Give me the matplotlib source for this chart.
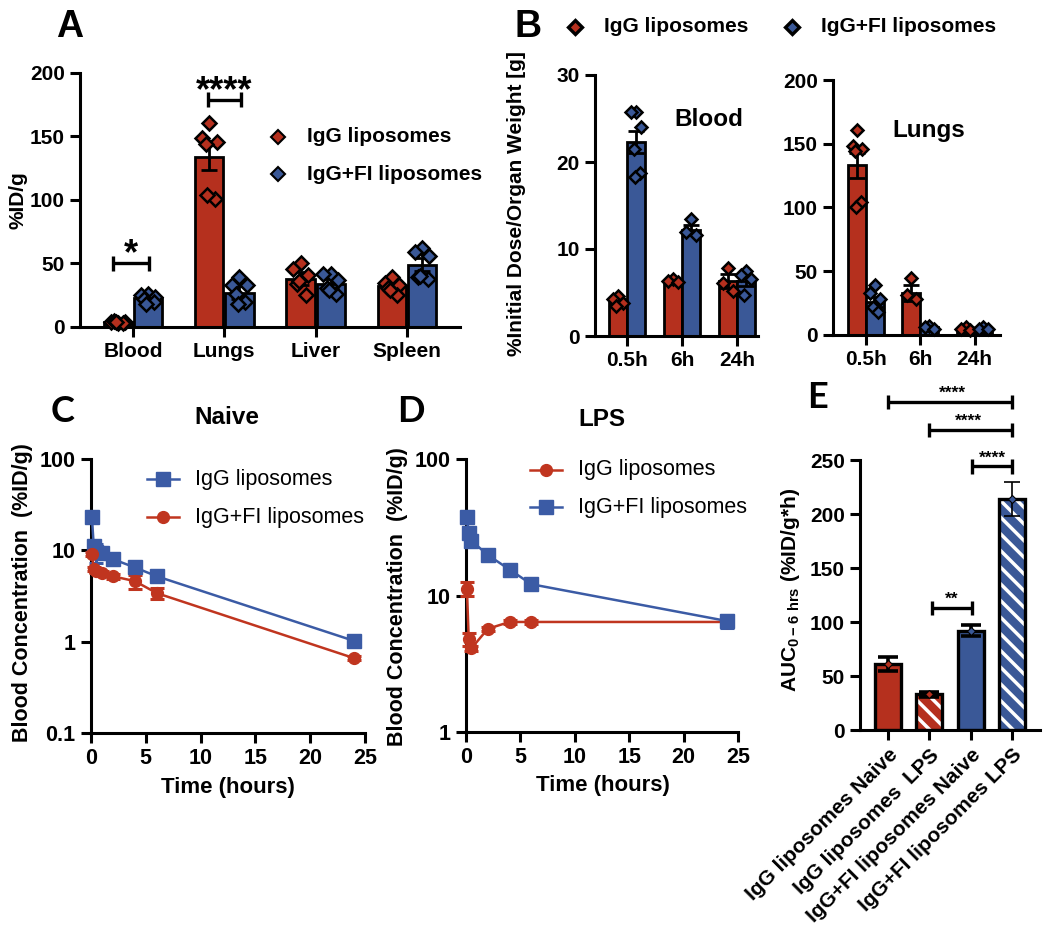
import numpy as np
import matplotlib
matplotlib.use('Agg')
from matplotlib import pyplot as plt

plt.rcParams['font.family'] = ['Liberation Sans', 'DejaVu Sans']
plt.rcParams['font.weight'] = 'bold'
plt.rcParams['mathtext.default'] = 'regular'
plt.rcParams['hatch.linewidth'] = 2.5

RED = '#b5301e'
BLUE = '#3a5897'
LRED = '#c0351f'
LBLUE = '#3b5ba5'

# ---- A: biodistribution, %ID/g
organs = ['Blood', 'Lungs', 'Liver', 'Spleen']
a_igg = [4, 134, 38, 32]
a_igg_sem = [0.4, 10, 5, 3]
a_fi = [23, 27, 34, 49]
a_fi_sem = [1.5, 5, 4, 5]
a_igg_pts = [[3.5, 4.2, 3.8, 4.5, 3.3, 4.0],
             [161, 149, 146, 144, 101, 104],
             [50, 46, 41, 34, 25, 36],
             [39, 35, 33, 31, 25, 29]]
a_fi_pts = [[26, 25, 24, 22, 20, 18],
            [39, 33, 33, 26, 20, 18],
            [42, 42, 37, 31, 26, 29],
            [62, 59, 56, 39, 38, 40]]

# ---- B: time course in blood and lungs
times = ['0.5h', '6h', '24h']
bl_igg = [4.0, 6.3, 6.3]
bl_igg_sem = [0.3, 0.1, 0.8]
bl_fi = [22.3, 12.2, 6.3]
bl_fi_sem = [1.3, 0.6, 0.6]
bl_igg_pts = [[4.6, 4.2, 3.8, 3.5], [6.5, 6.3, 6.2], [7.8, 6.1, 5.2]]
bl_fi_pts = [[25.8, 25.8, 24.0, 21.5, 18.7, 18.3], [13.4, 12.0, 11.6], [7.5, 7.0, 6.5, 4.7]]
lu_igg = [133, 33, 5]
lu_igg_sem = [10, 6, 1]
lu_fi = [26, 6, 5]
lu_fi_sem = [4, 1, 0.5]
lu_igg_pts = [[161, 148, 146, 144, 104, 100], [45, 31, 28], [6, 5, 4]]
lu_fi_pts = [[39, 33, 28, 22, 18], [7, 6, 5], [6, 5, 5]]

# ---- C: naive blood PK
t_naive = [0.083, 0.25, 0.5, 1, 2, 4, 6, 24]
naive_igg = [23, 11.2, 9.5, 9.3, 8.0, 6.5, 5.2, 1.02]
naive_igg_err = [1.0, 1.2, 2.3, 0.5, 0.4, 0.4, 0.3, 0.05]
naive_fi = [9.2, 6.2, 6.0, 5.6, 5.2, 4.6, 3.4, 0.66]
naive_fi_err = [0.5, 0.3, 0.3, 0.3, 0.3, 0.8, 0.45, 0.03]

# ---- D: LPS blood PK
t_lps = [0.083, 0.25, 0.5, 2, 4, 6, 24]
lps_igg = [11.2, 4.8, 4.1, 5.7, 6.4, 6.4, 6.4]
lps_igg_err = [1.3, 0.5, 0.2, 0.2, 0.2, 0.2, 0.3]
lps_fi = [37.8, 28.5, 25.2, 19.8, 15.5, 12.1, 6.5]
lps_fi_err = [1.5, 1.0, 1.0, 0.5, 0.5, 0.5, 0.7]

# ---- E: AUC 0-6 h
groups = ['IgG liposomes Naive', 'IgG liposomes  LPS',
          'IgG+FI liposomes Naive', 'IgG+FI liposomes LPS']
auc = [61, 33, 92, 214]
auc_err = [6.5, 2.5, 5, 16]

W, H = 1050, 939
fig = plt.figure(figsize=(W / 100, H / 100), dpi=100)


def px_axes(l, t, r, b):
    return fig.add_axes([l / W, 1 - b / H, (r - l) / W, (b - t) / H])


def prism(ax, size=14.5):
    for s in ['top', 'right']:
        ax.spines[s].set_visible(False)
    for s in ['left', 'bottom']:
        ax.spines[s].set_linewidth(2.2)
    ax.tick_params(width=2.2, length=7, labelsize=size, pad=4)
    for lab in ax.get_xticklabels() + ax.get_yticklabels():
        lab.set_fontweight('bold')


def bracket(ax, x0, x1, y, h, lw=2.4):
    kw = dict(color='k', lw=lw, clip_on=False, solid_capstyle='butt')
    ax.plot([x0, x1], [y, y], **kw)
    ax.plot([x0, x0], [y - h, y + h], **kw)
    ax.plot([x1, x1], [y - h, y + h], **kw)


JIT = np.array([0.0, -0.08, 0.08, -0.04, 0.06, -0.02])


def grouped(ax, means_a, sems_a, pts_a, means_b, sems_b, pts_b, off, w, ms):
    x = np.arange(len(means_a))
    ax.bar(x - off, means_a, w, color=RED, edgecolor='k', lw=2.0, zorder=2)
    ax.bar(x + off, means_b, w, color=BLUE, edgecolor='k', lw=2.0, zorder=2)
    ax.errorbar(x - off, means_a, yerr=sems_a, fmt='none', ecolor='k',
                elinewidth=2.0, capsize=6, capthick=2.0, zorder=3)
    ax.errorbar(x + off, means_b, yerr=sems_b, fmt='none', ecolor='k',
                elinewidth=2.0, capsize=6, capthick=2.0, zorder=3)
    for i in range(len(means_a)):
        pa = pts_a[i]
        pb = pts_b[i]
        ax.plot(i - off + JIT[:len(pa)] * w / 0.31, pa, 'D', ms=ms, mfc=RED,
                mec='k', mew=1.8, zorder=4, clip_on=False)
        ax.plot(i + off + JIT[:len(pb)] * w / 0.31, pb, 'D', ms=ms, mfc=BLUE,
                mec='k', mew=1.8, zorder=4, clip_on=False)


# ================= A
axA = px_axes(80, 73, 460, 327)
grouped(axA, a_igg, a_igg_sem, a_igg_pts, a_fi, a_fi_sem, a_fi_pts, 0.165, 0.31, 6.8)
axA.set_xlim(-0.58, 3.58)
axA.set_ylim(0, 200)
axA.set_yticks([0, 50, 100, 150, 200])
axA.set_xticks(range(4))
axA.set_xticklabels(organs)
prism(axA, 15)
bracket(axA, -0.22, 0.18, 50, 6)
axA.text(-0.02, 57, '*', ha='center', va='center', fontsize=26, fontweight='bold')
bracket(axA, 0.82, 1.18, 179, 6)
axA.text(1.0, 185, '****', ha='center', va='center', fontsize=26, fontweight='bold')

# ================= B
axB1 = px_axes(595, 75, 758, 336)
grouped(axB1, bl_igg, bl_igg_sem, bl_igg_pts, bl_fi, bl_fi_sem, bl_fi_pts, 0.165, 0.33, 6)
axB1.set_xlim(-0.58, 2.38)
axB1.set_ylim(0, 30)
axB1.set_yticks([0, 10, 20, 30])
axB1.set_xticks(range(3))
axB1.set_xticklabels(times)
prism(axB1, 15)

axB2 = px_axes(833, 80, 1000, 335)
grouped(axB2, lu_igg, lu_igg_sem, lu_igg_pts, lu_fi, lu_fi_sem, lu_fi_pts, 0.165, 0.33, 6)
axB2.set_xlim(-0.61, 2.47)
axB2.set_ylim(0, 200)
axB2.set_yticks([0, 50, 100, 150, 200])
axB2.set_xticks(range(3))
axB2.set_xticklabels(times)
prism(axB2, 15)


# ================= C / D
def pk(ax, t, y, e, color, marker, ms):
    ax.errorbar(t, y, yerr=e, color=color, marker=marker, ms=ms, lw=1.8,
                elinewidth=2.2, capsize=5, capthick=2.2, clip_on=False, zorder=3)


axC = px_axes(91, 459, 365, 733)
axC.set_yscale('log')
pk(axC, t_naive, naive_igg, naive_igg_err, LBLUE, 's', 9.5)
pk(axC, t_naive, naive_fi, naive_fi_err, LRED, 'o', 8.5)
axC.set_ylim(0.1, 100)
axC.set_xlim(0, 25)
axC.set_yticks([0.1, 1, 10, 100])
axC.set_yticklabels(['0.1', '1', '10', '100'])
axC.yaxis.set_minor_locator(matplotlib.ticker.NullLocator())
axC.set_xticks([0, 5, 10, 15, 20, 25])
prism(axC, 15.5)

axD = px_axes(466, 459, 738, 732)
axD.set_yscale('log')
pk(axD, t_lps, lps_igg, lps_igg_err, LRED, 'o', 8.5)
pk(axD, t_lps, lps_fi, lps_fi_err, LBLUE, 's', 9.5)
axD.set_ylim(1, 100)
axD.set_xlim(0, 25)
axD.set_yticks([1, 10, 100])
axD.set_yticklabels(['1', '10', '100'])
axD.yaxis.set_minor_locator(matplotlib.ticker.NullLocator())
axD.set_xticks([0, 5, 10, 15, 20, 25])
prism(axD, 15.5)

# ================= E
axE = px_axes(860, 460, 1040, 730)
xe = np.arange(4)
fills = [RED, RED, BLUE, BLUE]
hatches = ['', '\\\\', '', '\\\\']
axE.bar(xe, auc, 0.63, color=fills, edgecolor='white', lw=0, hatch=hatches, zorder=2)
axE.bar(xe, auc, 0.63, fill=False, edgecolor='k', lw=2.4, zorder=3)
axE.errorbar(xe[:3], auc[:3], yerr=auc_err[:3], fmt='none', ecolor='k',
             elinewidth=2.6, capsize=7, capthick=2.6, zorder=4)
axE.errorbar(xe[3:], auc[3:], yerr=auc_err[3:], fmt='none', ecolor='k',
             elinewidth=1.2, capsize=6, capthick=1.2, zorder=4)
for i in range(4):
    axE.plot(xe[i], auc[i], 'D', ms=4, mfc=fills[i], mec='k', mew=0.8, zorder=5)
axE.set_xlim(-0.68, 3.68)
axE.set_ylim(0, 250)
axE.set_yticks([0, 50, 100, 150, 200, 250])
axE.set_xticks(xe)
axE.set_xticklabels(groups, rotation=45, ha='right', rotation_mode='anchor')
prism(axE, 15)
for x0, x1, yb in [(0, 3, 304), (1, 3, 278), (2.03, 3, 244), (1.07, 2.03, 113)]:
    bracket(axE, x0, x1, yb, 6.5)
for xs, ys, s in [(1.55, 304, '****'), (1.94, 278, '****'), (2.52, 244, '****'), (1.55, 113, '**')]:
    axE.text(xs, ys + 1, s, ha='center', va='bottom', fontsize=12.5, clip_on=False)

# ================= labels, legends and panel letters on top
overlay = fig.add_axes([0, 0, 1, 1])
overlay.set_zorder(10)
overlay.set_xlim(0, W)
overlay.set_ylim(H, 0)
overlay.axis('off')

overlay.text(18, 200, '%ID/g', rotation=90, ha='center', va='center', fontsize=15)
overlay.text(70, 27, 'A', ha='center', va='center', fontsize=27)
for yy, c, lab in [(137, RED, 'IgG liposomes'), (174, BLUE, 'IgG+FI liposomes')]:
    overlay.plot(278, yy, 'D', ms=7.5, mfc=c, mec='k', mew=1.5)
    overlay.text(307, yy, lab, va='center', fontsize=15)

overlay.text(709, 120, 'Blood', ha='center', va='center', fontsize=17.5)
overlay.text(929, 131, 'Lungs', ha='center', va='center', fontsize=17.5)
overlay.text(517, 204, '%Initial Dose/Organ Weight [g]', rotation=90,
             ha='center', va='center', fontsize=15)
overlay.text(528, 27, 'B', ha='center', va='center', fontsize=27)
for xx, c, lab in [(575, RED, 'IgG liposomes'), (792, BLUE, 'IgG+FI liposomes')]:
    overlay.plot(xx, 27, 'D', ms=7.5, mfc=c, mec='k', mew=2.4)
    overlay.text(xx + 29, 27, lab, va='center', fontsize=15)

for x0, yy, c, m, ms, lab in [(147, 479, LBLUE, 's', 9.5, 'IgG liposomes'),
                              (147, 517, LRED, 'o', 8.5, 'IgG+FI liposomes'),
                              (530, 470, LRED, 'o', 8.5, 'IgG liposomes'),
                              (530, 507, LBLUE, 's', 9.5, 'IgG+FI liposomes')]:
    overlay.plot([x0, x0 + 32], [yy, yy], color=c, lw=1.8)
    overlay.plot(x0 + 16, yy, m, color=c, ms=ms)
    overlay.text(x0 + 48, yy, lab, va='center', fontsize=15.5, fontweight='normal')

overlay.text(227, 418, 'Naive', ha='center', va='center', fontsize=17.5)
overlay.text(602, 420, 'LPS', ha='center', va='center', fontsize=17.5)
overlay.text(228, 787, 'Time (hours)', ha='center', va='center', fontsize=16)
overlay.text(603, 785, 'Time (hours)', ha='center', va='center', fontsize=16)
overlay.text(23, 593, 'Blood Concentration  (%ID/g)', rotation=90,
             ha='center', va='center', fontsize=15.5)
overlay.text(398, 597, 'Blood Concentration  (%ID/g)', rotation=90,
             ha='center', va='center', fontsize=15.5)
overlay.text(63, 411, 'C', ha='center', va='center', fontsize=26, family='Lato')
overlay.text(411, 411, 'D', ha='center', va='center', fontsize=26, family='Lato')
overlay.text(790, 590, 'AUC$_{0-6\\ hrs}$ (%ID/g*h)', rotation=90,
             ha='center', va='center', fontsize=15)
overlay.text(818, 398, 'E', ha='center', va='center', fontsize=26, family='Lato')

fig.savefig('out.png', dpi=100)
